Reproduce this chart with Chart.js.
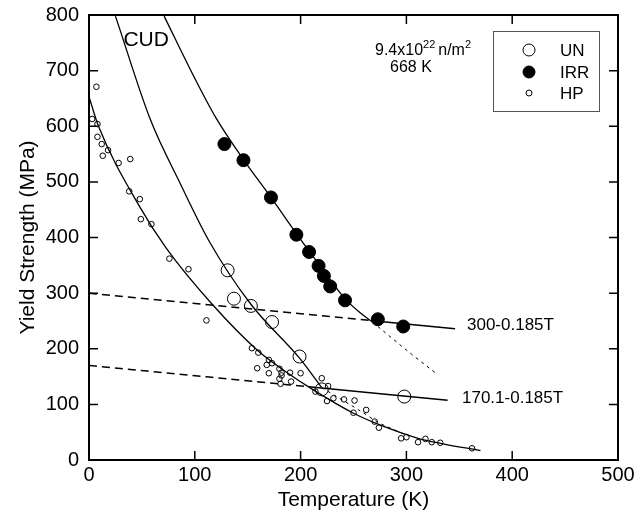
<!DOCTYPE html>
<html>
<head>
<meta charset="utf-8">
<script src="https://cdn.jsdelivr.net/npm/chart.js@4.4.1/dist/chart.umd.min.js"></script>
<style>
  body { margin: 0; background: #fff; }
  #wrap { width: 635px; height: 523px; }
</style>
</head>
<body>
<div id="wrap"><canvas id="chart" width="635" height="523"></canvas></div>
<script>
// measured points, temperature (K) and yield strength (MPa)
const unT = [131, 137, 153, 173, 199, 220, 298];
const unY = [341, 290, 277, 248, 186, 127, 114];

const irrT = [128, 146, 172, 196, 208, 217, 222, 228, 242, 273, 297];
const irrY = [568, 539, 472, 405, 374, 349, 331, 312, 287, 253, 240];

const hpT = [7, 3, 8, 8, 12, 18, 13, 28, 39, 38, 48, 49, 59, 76, 94, 111,
  154, 160, 170, 168, 173, 159, 170, 180, 182, 182, 180, 181, 190, 191, 200,
  220, 226, 214, 225, 231, 241, 251, 250, 262, 270, 274, 295, 300, 311, 318,
  324, 332, 362];
const hpY = [671, 613, 604, 581, 568, 557, 547, 534, 541, 483, 469, 433, 424,
  362, 343, 251, 201, 193, 180, 171, 174, 165, 156, 164, 157, 152, 146, 137,
  157, 141, 156, 147, 133, 123, 106, 111, 109, 107, 85, 90, 69, 58, 39, 41,
  32, 38, 32, 31, 21];

// fitted curves
const hpFitT = [0, 9, 48, 73, 116, 160, 185, 212, 250, 275, 311, 332, 370];
const hpFitY = [653, 600, 455, 381, 281, 196, 160, 126, 84, 63, 39, 30, 17];

const unFitT = [25, 58, 86, 114, 153, 199, 220];
const unFitY = [798, 612, 498, 392, 280, 183, 130];
const unExtT = [220, 255, 275, 289, 298];
const unExtY = [130, 90, 66, 54, 46];

const irrFitT = [71, 100, 120, 146, 172, 196, 220, 242, 256, 268];
const irrFitY = [798, 686, 615, 540, 472, 407, 345, 290, 265, 248];
const irrExtT = [268, 280, 305, 330];
const irrExtY = [248, 229, 190, 153];

// 300-0.185T and 170.1-0.185T
const line300DashT = [0, 268];
const line300DashY = [300, 250.4];
const line300T = [268, 346];
const line300Y = [250.4, 236];
const line170DashT = [0, 215];
const line170DashY = [170.1, 130.3];
const line170T = [215, 339];
const line170Y = [130.3, 107.4];

const xTicks = [0, 100, 200, 300, 400, 500];
const yTicks = [0, 100, 200, 300, 400, 500, 600, 700, 800];

const FONT = '"Liberation Sans", Arial, sans-serif';

function pts(xs, ys) {
  return xs.map((x, i) => ({ x: x, y: ys[i] }));
}

function curve(xs, ys, dash, width) {
  return {
    type: 'line',
    data: pts(xs, ys),
    borderColor: '#000',
    borderWidth: width || 1.3,
    borderDash: dash || [],
    pointRadius: 0,
    fill: false,
    cubicInterpolationMode: 'monotone'
  };
}

// frame with inward ticks on all four sides
const framePlugin = {
  id: 'frame',
  afterDatasetsDraw(chart) {
    const ctx = chart.ctx;
    const a = chart.chartArea;
    const xs = chart.scales.x, ys = chart.scales.y;
    ctx.save();
    ctx.strokeStyle = '#000';
    ctx.lineWidth = 1.5;
    xTicks.forEach(function (v) {
      const px = xs.getPixelForValue(v);
      ctx.beginPath();
      ctx.moveTo(px, a.bottom); ctx.lineTo(px, a.bottom - 9);
      ctx.moveTo(px, a.top); ctx.lineTo(px, a.top + 9);
      ctx.stroke();
    });
    yTicks.forEach(function (v) {
      const py = ys.getPixelForValue(v);
      ctx.beginPath();
      ctx.moveTo(a.left, py); ctx.lineTo(a.left + 9, py);
      ctx.moveTo(a.right, py); ctx.lineTo(a.right - 9, py);
      ctx.stroke();
    });
    ctx.lineWidth = 2;
    ctx.strokeRect(a.left, a.top, a.right - a.left, a.bottom - a.top);
    ctx.restore();
  }
};

// text notes and the legend box
const notesPlugin = {
  id: 'notes',
  afterDraw(chart) {
    const ctx = chart.ctx;
    const xs = chart.scales.x, ys = chart.scales.y;
    ctx.save();
    ctx.fillStyle = '#000';
    ctx.textBaseline = 'alphabetic';

    ctx.font = '21px ' + FONT;
    ctx.textAlign = 'center';
    ctx.fillText('CUD', xs.getPixelForValue(54), ys.getPixelForValue(744));

    // 9.4x10^22 n/m^2
    ctx.textAlign = 'left';
    let x = 375;
    ctx.font = '16px ' + FONT;
    ctx.fillText('9.4x10', x, 55);
    x += ctx.measureText('9.4x10').width;
    ctx.font = '11px ' + FONT;
    ctx.fillText('22', x, 48);
    x += ctx.measureText('22').width + 3;
    ctx.font = '16px ' + FONT;
    ctx.fillText('n/m', x, 55);
    x += ctx.measureText('n/m').width;
    ctx.font = '11px ' + FONT;
    ctx.fillText('2', x, 48);
    ctx.font = '16px ' + FONT;
    ctx.fillText('668 K', 390, 72);

    ctx.font = '17px ' + FONT;
    ctx.textBaseline = 'middle';
    ctx.fillText('300-0.185T', 467, 325);
    ctx.fillText('170.1-0.185T', 462, 398);

    // legend
    ctx.strokeStyle = '#555';
    ctx.lineWidth = 1;
    ctx.strokeRect(493.5, 31.5, 106, 80);
    const rows = [
      { label: 'UN', r: 6, fill: false, y: 50 },
      { label: 'IRR', r: 6, fill: true, y: 72 },
      { label: 'HP', r: 3, fill: false, y: 93 }
    ];
    ctx.font = '17px ' + FONT;
    rows.forEach(function (row) {
      ctx.beginPath();
      ctx.arc(529, row.y, row.r, 0, Math.PI * 2);
      ctx.strokeStyle = '#000';
      if (row.fill) { ctx.fillStyle = '#000'; ctx.fill(); }
      ctx.stroke();
      ctx.fillStyle = '#000';
      ctx.fillText(row.label, 560, row.y + 1);
    });
    ctx.restore();
  }
};

// keep the plot box fixed: no extra room for overhanging end labels
function noPad(s) {
  s.paddingLeft = 0; s.paddingRight = 0;
  s.paddingTop = 0; s.paddingBottom = 0;
}

const chart = new Chart(document.getElementById('chart'), {
  type: 'scatter',
  data: {
    datasets: [
      {
        label: 'UN',
        data: pts(unT, unY),
        pointRadius: 6.5,
        pointBorderWidth: 1,
        borderColor: '#000',
        backgroundColor: 'rgba(0,0,0,0)'
      },
      {
        label: 'IRR',
        data: pts(irrT, irrY),
        pointRadius: 6.5,
        borderColor: '#000',
        backgroundColor: '#000'
      },
      {
        label: 'HP',
        data: pts(hpT, hpY),
        pointRadius: 2.8,
        pointBorderWidth: 1,
        borderColor: '#000',
        backgroundColor: 'rgba(0,0,0,0)'
      },
      curve(hpFitT, hpFitY),
      curve(unFitT, unFitY),
      curve(unExtT, unExtY, [3, 4], 1),
      curve(irrFitT, irrFitY),
      curve(irrExtT, irrExtY, [3, 4], 1),
      curve(line300DashT, line300DashY, [8, 5], 1.5),
      curve(line300T, line300Y, [], 1.5),
      curve(line170DashT, line170DashY, [8, 5], 1.5),
      curve(line170T, line170Y, [], 1.5)
    ]
  },
  options: {
    responsive: false,
    animation: false,
    devicePixelRatio: 1,
    layout: { padding: { left: 0, right: 17, top: 15, bottom: 0 } },
    plugins: {
      legend: { display: false },
      tooltip: { enabled: false }
    },
    scales: {
      x: {
        type: 'linear',
        min: 0,
        max: 500,
        afterFit: function (s) { s.height = 63; noPad(s); },
        afterBuildTicks: function (s) { s.ticks = xTicks.map(v => ({ value: v })); },
        grid: { display: false, drawTicks: false },
        border: { display: false },
        ticks: { color: '#000', font: { family: FONT, size: 20 }, padding: 3 },
        title: {
          display: true,
          text: 'Temperature (K)',
          color: '#000',
          font: { family: FONT, size: 21 },
          padding: { bottom: 10 }
        }
      },
      y: {
        type: 'linear',
        min: 0,
        max: 800,
        afterFit: function (s) { s.width = 89; noPad(s); },
        afterBuildTicks: function (s) { s.ticks = yTicks.map(v => ({ value: v })); },
        grid: { display: false, drawTicks: false },
        border: { display: false },
        ticks: { color: '#000', font: { family: FONT, size: 20 }, padding: 10 },
        title: {
          display: true,
          text: 'Yield Strength (MPa)',
          color: '#000',
          font: { family: FONT, size: 21 },
          padding: { top: 16 }
        }
      }
    }
  },
  plugins: [framePlugin, notesPlugin]
});
</script>
</body>
</html>
